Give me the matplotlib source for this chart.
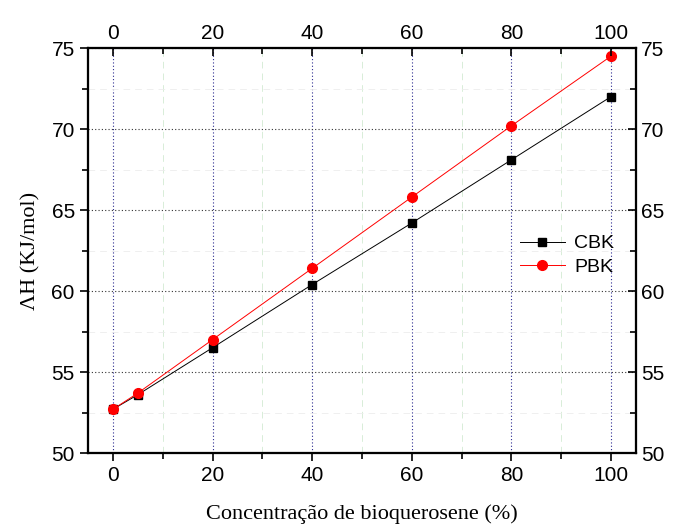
import matplotlib.pyplot as plt
from matplotlib.ticker import FixedLocator

# concentracao de bioquerosene (%)
conc = [0, 5, 20, 40, 60, 80, 100]
cbk = [52.7, 53.6, 56.5, 60.4, 64.2, 68.1, 72.0]
pbk = [52.7, 53.7, 57.0, 61.4, 65.8, 70.2, 74.5]

xticks = [0, 20, 40, 60, 80, 100]
xminor = [10, 30, 50, 70, 90]
yticks = [50, 55, 60, 65, 70, 75]
yminor = [52.5, 57.5, 62.5, 67.5, 72.5]

plt.rcParams['font.family'] = ['Liberation Sans', 'DejaVu Sans']

fig = plt.figure(figsize=(6.74, 5.27), dpi=100)
ax = fig.add_axes([0.1306, 0.1404, 0.813, 0.7685])

ax.plot(conc, cbk, color='black', lw=0.7, marker='s', ms=6, label='CBK')
ax.plot(conc, pbk, color='red', lw=0.7, marker='o', ms=7, label='PBK')

ax.set_xlim(-5, 105)
ax.set_ylim(50, 75)


def set_ticks(a, direction):
    a.xaxis.set_major_locator(FixedLocator(xticks))
    a.xaxis.set_minor_locator(FixedLocator(xminor))
    a.yaxis.set_major_locator(FixedLocator(yticks))
    a.yaxis.set_minor_locator(FixedLocator(yminor))
    a.tick_params(which='both', labelsize=15, width=1.2, direction=direction)
    a.tick_params(which='major', length=6)
    a.tick_params(which='minor', length=4)


set_ticks(ax, 'out')

# grade principal pontilhada, secundaria bem clara
ax.grid(which='major', axis='x', color='#2a2a90', ls=(0, (1, 2)), lw=0.8)
ax.grid(which='major', axis='y', color='#333333', ls=(0, (1, 2)), lw=0.8)
ax.grid(which='minor', axis='x', color='#d2ead2', ls=(0, (8, 6)), lw=0.6)
ax.grid(which='minor', axis='y', color='#ececec', ls=(0, (8, 6)), lw=0.6)
ax.set_axisbelow(True)

# eixos espelhados no topo e na direita
top = ax.twiny()
top.set_xlim(ax.get_xlim())
right = ax.twinx()
right.set_ylim(ax.get_ylim())
for a in (top, right):
    set_ticks(a, 'in')
top.tick_params(axis='y', left=False, right=False, labelleft=False, labelright=False)
right.tick_params(axis='x', top=False, bottom=False, labeltop=False, labelbottom=False)

for a in (ax, top, right):
    for s in a.spines.values():
        s.set_linewidth(1.5)

ax.set_xlabel('Concentração de bioquerosene (%)', family='Liberation Serif',
              fontsize=16, labelpad=14)
ax.set_ylabel('ΛH (KJ/mol)', family='Liberation Serif', fontsize=16, labelpad=8)

right.legend(*ax.get_legend_handles_labels(), loc='center left',
             bbox_to_anchor=(0.788, 0.488), frameon=False, borderaxespad=0,
             borderpad=0, fontsize=14, handlelength=2.3, handletextpad=0.5,
             labelspacing=0.3)

fig.savefig('out.png', dpi=100)
